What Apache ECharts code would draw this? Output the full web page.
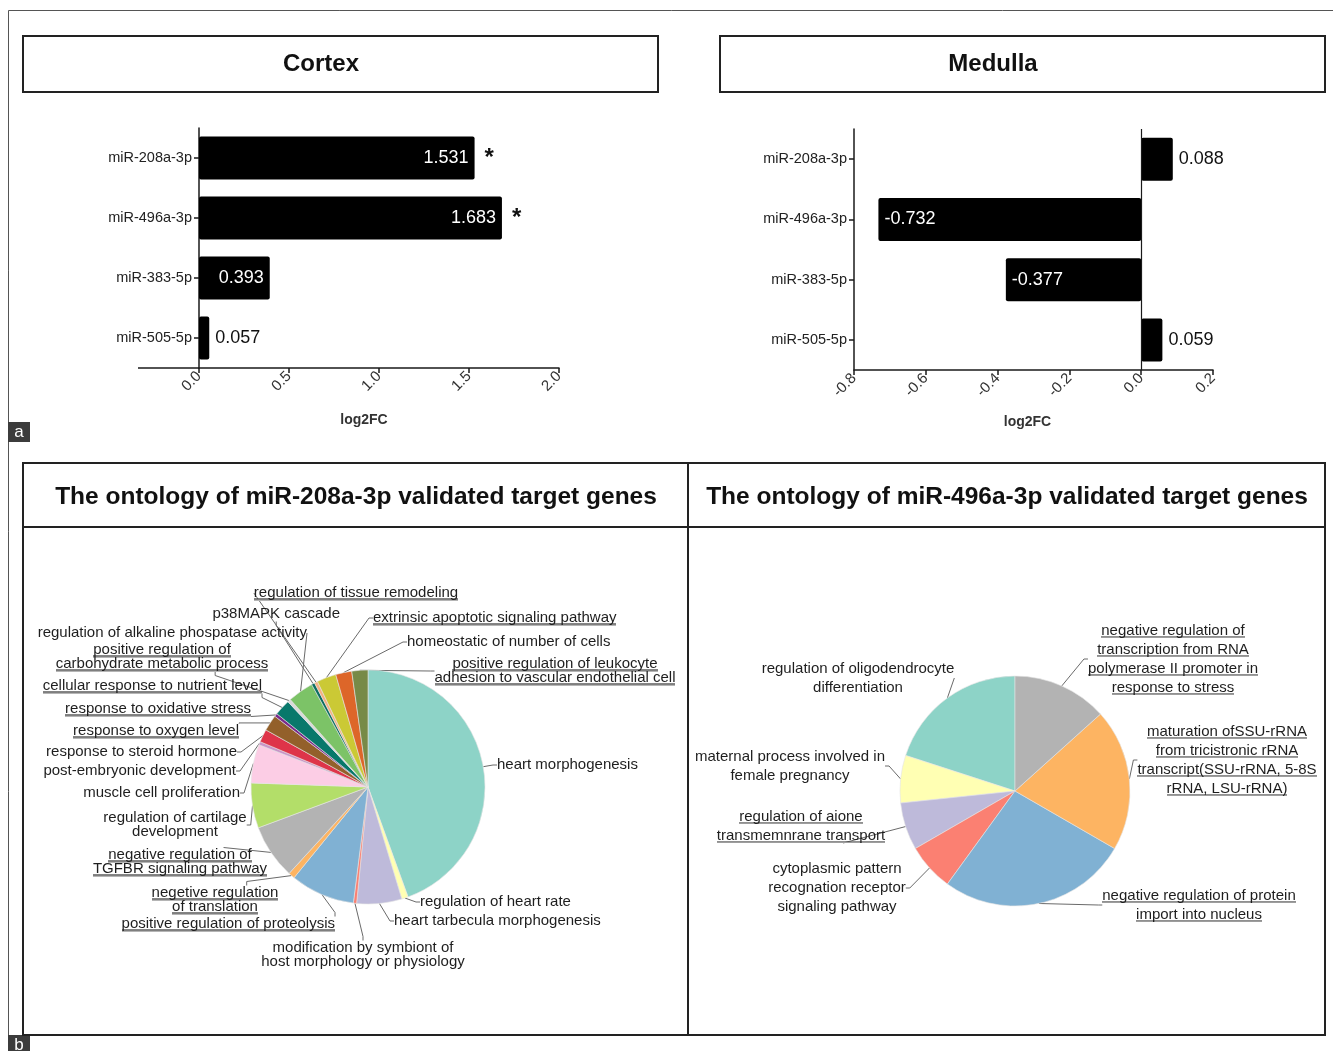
<!DOCTYPE html>
<html>
<head>
<meta charset="utf-8">
<script src="https://cdn.jsdelivr.net/npm/echarts@6/dist/echarts.min.js"></script>
<style>
html, body { margin: 0; padding: 0; background: #fff; }
#chart { width: 1333px; height: 1051px; }
</style>
</head>
<body>
<div id="chart"></div>
<script>
const FONT = '"Liberation Sans", Arial, Helvetica, sans-serif';

// log2 fold change of the four miRNAs
const mirnas = ['miR-208a-3p', 'miR-496a-3p', 'miR-383-5p', 'miR-505-5p'];
const cortexFC = [1.531, 1.683, 0.393, 0.057];
const cortexSig = ['*', '*', '', ''];
const medullaFC = [0.088, -0.732, -0.377, 0.059];

// GO terms of the validated targets of miR-208a-3p (gene counts)
const terms208 = [
  'heart morphogenesis',
  'regulation of heart rate',
  'heart tarbecula morphogenesis',
  'modification by symbiont of\nhost morphology or physiology',
  'positive regulation of proteolysis',
  'negetive regulation\nof translation',
  'negative regulation of\nTGFBR signaling pathway',
  'regulation of cartilage\ndevelopment',
  'muscle cell proliferation',
  'post-embryonic development',
  'response to steroid hormone',
  'response to oxygen level',
  'response to oxidative stress',
  'cellular response to nutrient level',
  'positive regulation of\ncarbohydrate metabolic process',
  'regulation of alkaline phospatase activity',
  'p38MAPK cascade',
  'regulation of tissue remodeling',
  'extrinsic apoptotic signaling pathway',
  'homeostatic of number of cells',
  'positive regulation of leukocyte\nadhesion to vascular endothelial cell'
];
const genes208 = [100, 2, 14, 1, 20, 2, 17, 14, 12, 1, 4, 5, 1, 5, 1, 8, 1, 1, 6, 5, 5];

// GO terms of the validated targets of miR-496a-3p (gene counts)
const terms496 = [
  'regulation of oligodendrocyte\ndifferentiation',
  'maternal process involved in\nfemale pregnancy',
  'regulation of aione\ntransmemnrane transport',
  'cytoplasmic pattern\nrecognation receptor\nsignaling pathway',
  'negative regulation of protein\nimport into nucleus',
  'maturation ofSSU-rRNA\nfrom tricistronic rRNA\ntranscript(SSU-rRNA, 5-8S\nrRNA, LSU-rRNA)',
  'negative regulation of\ntranscription from RNA\npolymerase II promoter in\nresponse to stress'
];
const genes496 = [3, 1, 1, 1, 4, 3, 2];

// slice colours and which term labels are underlined
const colors208 = ['#8dd3c7', '#ffffb3', '#bebada', '#fb8072', '#80b1d3', '#fdb462', '#b3b3b3',
  '#b3de69', '#fccde5', '#c994c7', '#de3449', '#93602a', '#7b2a8a', '#08786b', '#d9d9d9',
  '#7cc367', '#0c6e62', '#f4b183', '#cbc935', '#dd6629', '#778a47'];
const colors496 = ['#8dd3c7', '#ffffb3', '#bebada', '#fb8072', '#80b1d3', '#fdb462', '#b3b3b3'];
const underline208 = [0, 0, 0, 0, 1, 1, 1, 0, 0, 0, 0, 1, 1, 1, 1, 0, 0, 1, 1, 0, 1];
const underline496 = [0, 0, 1, 0, 1, 1, 1];

// label anchors [x, y, align]
const anchors208 = [
  [497, 765, 'left'], [420, 902, 'left'], [394, 921, 'left'], [363, 955, 'center'],
  [335, 924, 'right'], [215, 900, 'center'], [180, 862, 'center'], [175, 825, 'center'],
  [240, 793, 'right'], [236, 771, 'right'], [237, 752, 'right'], [239, 731, 'right'],
  [251, 709, 'right'], [262, 686, 'right'], [162, 657, 'center'], [307, 633, 'right'],
  [340, 614, 'right'], [356, 593, 'center'], [373, 618, 'left'], [407, 642, 'left'],
  [555, 671, 'center']
];
const anchors496 = [
  [858, 678, 'center'], [790, 766, 'center'], [801, 826, 'center'], [837, 888, 'center'],
  [1199, 905, 'center'], [1227, 760, 'center'], [1173, 659, 'center']
];

// a stretched strip that draws the underline at the bottom of a text line
function underlineStrip(h) {
  const c = document.createElement('canvas');
  c.width = 4; c.height = h;
  const g = c.getContext('2d');
  g.fillStyle = '#3a3a3a'; g.fillRect(0, h - 2, 4, 1);
  g.fillStyle = '#b5b5b5'; g.fillRect(0, h - 1, 4, 1);
  return c;
}

function richLabel(name, underlined) {
  return name.split('\n').map(l => underlined ? '{u|' + l + '}' : '{p|' + l + '}').join('\n');
}

function richStyles(lh) {
  const base = { fontFamily: FONT, fontSize: 15, color: '#1e1e1e', lineHeight: lh };
  return { p: base, u: Object.assign({}, base, { backgroundColor: { image: underlineStrip(lh) } }) };
}

function pieSeries(terms, values, colors, underline, anchors, center, radius, clockwise, lh) {
  return {
    type: 'pie',
    center: center,
    radius: radius,
    startAngle: 90,
    clockwise: clockwise,
    avoidLabelOverlap: false,
    silent: true,
    data: terms.map((t, i) => ({ name: t, value: values[i], itemStyle: { color: colors[i] } })),
    itemStyle: { borderColor: '#e4e4e4', borderWidth: 0.6 },
    label: {
      show: true,
      formatter: p => richLabel(p.name, underline[p.dataIndex]),
      rich: richStyles(lh)
    },
    labelLine: { show: true, length: 6, length2: 4, smooth: false, lineStyle: { color: '#6a6a6a', width: 1 } },
    labelLayout: p => {
      const a = anchors[p.dataIndex];
      return { x: a[0], y: a[1], align: a[2], verticalAlign: 'middle' };
    }
  };
}

// long bars carry their value inside in white, short ones beside in black
function barLabel(v) {
  const inside = Math.abs(v) > 0.3;
  return inside
    ? { position: v > 0 ? 'insideRight' : 'insideLeft', color: '#fff', distance: 6 }
    : { position: 'right', color: '#111', distance: 6 };
}

const axisLineStyle = { color: '#1a1a1a', width: 1.5 };
const tickLabel = { fontFamily: FONT, fontSize: 15, color: '#333', rotate: 45, margin: 6 };
const catLabel = { fontFamily: FONT, fontSize: 14.5, color: '#222', margin: 7 };
const nameStyle = { fontFamily: FONT, fontSize: 14, fontWeight: 'bold', color: '#333' };

const chart = echarts.init(document.getElementById('chart'), null, { renderer: 'canvas' });

chart.setOption({
  animation: false,
  backgroundColor: '#fff',
  textStyle: { fontFamily: FONT },
  grid: [
    { left: 199, top: 128, width: 360, height: 240 },
    { left: 854, top: 129, width: 359, height: 241 }
  ],
  xAxis: [
    {
      gridIndex: 0, type: 'value', min: 0, max: 2, interval: 0.5,
      axisLine: { show: true, onZero: false, lineStyle: axisLineStyle },
      axisTick: { show: true, length: 5, lineStyle: axisLineStyle },
      axisLabel: Object.assign({ formatter: v => v.toFixed(1) }, tickLabel),
      splitLine: { show: false },
      name: 'log2FC', nameLocation: 'middle', nameGap: 45,
      nameTextStyle: Object.assign({ padding: [0, 30, 0, 0] }, nameStyle)
    },
    {
      gridIndex: 1, type: 'value', min: -0.8, max: 0.2, interval: 0.2,
      axisLine: { show: true, onZero: false, lineStyle: axisLineStyle },
      axisTick: { show: true, length: 5, lineStyle: axisLineStyle },
      axisLabel: Object.assign({ formatter: v => v.toFixed(1) }, tickLabel),
      splitLine: { show: false },
      name: 'log2FC', nameLocation: 'middle', nameGap: 45,
      nameTextStyle: Object.assign({ padding: [0, 12, 0, 0] }, nameStyle)
    }
  ],
  yAxis: [
    {
      gridIndex: 0, type: 'category', data: mirnas, inverse: true,
      axisLine: { show: true, onZero: false, lineStyle: axisLineStyle },
      axisTick: { show: true, alignWithLabel: true, length: 5, lineStyle: axisLineStyle },
      axisLabel: catLabel,
      splitLine: { show: false }
    },
    {
      gridIndex: 1, type: 'category', data: mirnas, inverse: true,
      axisLine: { show: true, onZero: false, lineStyle: axisLineStyle },
      axisTick: { show: true, alignWithLabel: true, length: 5, lineStyle: axisLineStyle },
      axisLabel: catLabel,
      splitLine: { show: false }
    }
  ],
  series: [
    {
      type: 'bar', xAxisIndex: 0, yAxisIndex: 0, barWidth: 43, barGap: '-100%',
      data: cortexFC.map(v => ({ value: v, label: barLabel(v) })),
      itemStyle: { color: '#000', borderRadius: 2 },
      label: { show: true, fontFamily: FONT, fontSize: 18, formatter: p => p.value.toFixed(3) },
      silent: true
    },
    {
      // significance marks beside the cortex bars
      type: 'bar', xAxisIndex: 0, yAxisIndex: 0, barWidth: 43, barGap: '-100%',
      data: cortexFC,
      itemStyle: { color: 'rgba(0,0,0,0)' },
      label: {
        show: true, position: 'right', distance: 10, color: '#111',
        fontFamily: FONT, fontSize: 24, fontWeight: 'bold',
        formatter: p => cortexSig[p.dataIndex]
      },
      silent: true
    },
    {
      type: 'bar', xAxisIndex: 1, yAxisIndex: 1, barWidth: 43,
      data: medullaFC.map(v => ({ value: v, label: barLabel(v) })),
      itemStyle: { color: '#000', borderRadius: 2 },
      label: { show: true, fontFamily: FONT, fontSize: 18, formatter: p => p.value.toFixed(3) },
      markLine: {
        silent: true, symbol: 'none', label: { show: false },
        lineStyle: { color: '#1a1a1a', width: 1.2, type: 'solid' },
        data: [{ xAxis: 0 }]
      },
      silent: true
    },
    pieSeries(terms208, genes208, colors208, underline208, anchors208, [368, 787], 117, true, 14),
    pieSeries(terms496, genes496, colors496, underline496, anchors496, [1015, 791], 115, false, 19)
  ],
  graphic: [
    { type: 'rect', silent: true, shape: { x: 8.5, y: 10.5, width: 1400, height: 1100 },
      style: { fill: 'none', stroke: '#555', lineWidth: 1 } },
    // the cortex value axis line runs on a little past zero to the left
    { type: 'line', silent: true, shape: { x1: 138, y1: 368, x2: 199, y2: 368 },
      style: { stroke: '#1a1a1a', lineWidth: 1.5 } },
    { type: 'rect', silent: true, shape: { x: 23, y: 36, width: 635, height: 56 },
      style: { fill: '#fff', stroke: '#222', lineWidth: 2 } },
    { type: 'rect', silent: true, shape: { x: 720, y: 36, width: 605, height: 56 },
      style: { fill: '#fff', stroke: '#222', lineWidth: 2 } },
    { type: 'text', silent: true, x: 321, y: 64,
      style: { text: 'Cortex', fill: '#111', font: 'bold 24px ' + FONT, align: 'center', verticalAlign: 'middle' } },
    { type: 'text', silent: true, x: 993, y: 64,
      style: { text: 'Medulla', fill: '#111', font: 'bold 24px ' + FONT, align: 'center', verticalAlign: 'middle' } },
    { type: 'rect', silent: true, shape: { x: 8, y: 422, width: 22, height: 20 }, style: { fill: '#3c3c3c' } },
    { type: 'text', silent: true, x: 19, y: 432,
      style: { text: 'a', fill: '#fff', font: '17px ' + FONT, align: 'center', verticalAlign: 'middle' } },
    { type: 'rect', silent: true, shape: { x: 8, y: 1035, width: 22, height: 20 }, style: { fill: '#3c3c3c' } },
    { type: 'text', silent: true, x: 19, y: 1045,
      style: { text: 'b', fill: '#fff', font: '17px ' + FONT, align: 'center', verticalAlign: 'middle' } },
    { type: 'rect', silent: true, shape: { x: 23, y: 463, width: 1302, height: 572 },
      style: { fill: 'none', stroke: '#222', lineWidth: 2 } },
    { type: 'line', silent: true, shape: { x1: 688, y1: 463, x2: 688, y2: 1035 },
      style: { stroke: '#222', lineWidth: 2 } },
    { type: 'line', silent: true, shape: { x1: 23, y1: 527, x2: 1325, y2: 527 },
      style: { stroke: '#222', lineWidth: 2 } },
    { type: 'text', silent: true, x: 356, y: 497,
      style: { text: 'The ontology of miR-208a-3p validated target genes', fill: '#111',
        font: 'bold 24.5px ' + FONT, align: 'center', verticalAlign: 'middle' } },
    { type: 'text', silent: true, x: 1007, y: 497,
      style: { text: 'The ontology of miR-496a-3p validated target genes', fill: '#111',
        font: 'bold 24.5px ' + FONT, align: 'center', verticalAlign: 'middle' } }
  ]
});
</script>
</body>
</html>
